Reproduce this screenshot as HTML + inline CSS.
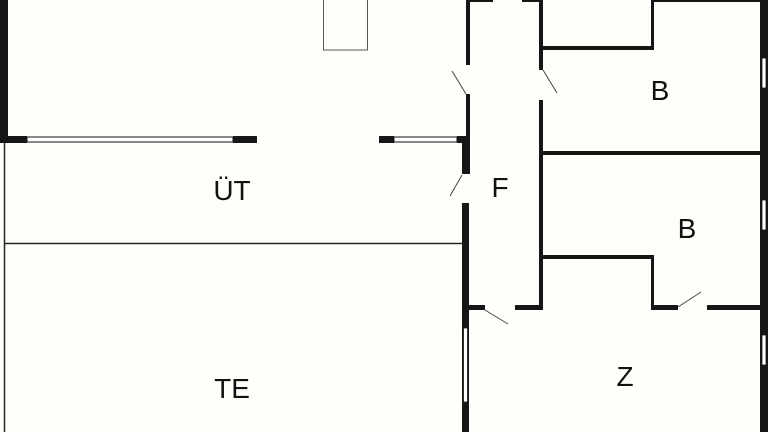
<!DOCTYPE html>
<html><head><meta charset="utf-8"><style>
html,body{margin:0;padding:0;background:#fefefa;}
svg{display:block}
text{font-family:"Liberation Sans",sans-serif;font-size:28px;fill:#111;text-anchor:middle}
</style></head><body>
<svg width="768" height="432" viewBox="0 0 768 432" xmlns="http://www.w3.org/2000/svg">
<rect width="768" height="432" fill="#fefefa"/>
<g fill="#161616">
<rect x="0" y="0" width="8" height="143"/>
<rect x="0" y="136" width="27" height="7"/>
<rect x="233" y="136" width="24" height="7"/>
<rect x="379" y="136" width="15" height="7"/>
<rect x="457" y="136" width="8" height="7"/>
<rect x="466" y="0" width="4" height="65"/>
<rect x="466" y="94" width="4" height="44"/>
<rect x="462" y="136" width="8" height="38"/>
<rect x="462" y="203" width="7" height="229"/>
<rect x="466" y="0" width="27" height="2"/>
<rect x="522" y="0" width="21" height="2"/>
<rect x="539" y="0" width="4" height="70"/>
<rect x="539" y="100" width="4" height="210"/>
<rect x="466" y="305" width="19" height="5"/>
<rect x="515" y="305" width="28" height="5"/>
<rect x="543" y="46" width="111" height="4"/>
<rect x="651" y="0" width="3" height="50"/>
<rect x="654" y="0" width="106" height="2"/>
<rect x="760" y="0" width="8" height="432"/>
<rect x="543" y="151" width="217" height="4"/>
<rect x="543" y="255" width="111" height="4"/>
<rect x="651" y="255" width="3" height="55"/>
<rect x="651" y="305" width="27" height="5"/>
<rect x="707" y="305" width="53" height="5"/>
</g>
<rect x="27" y="137" width="206" height="5" fill="#fff" stroke="#161616" stroke-width="1"/>
<rect x="394" y="137" width="63" height="5" fill="#fff" stroke="#161616" stroke-width="1"/>
<rect x="762" y="58" width="4" height="30" fill="#fff" stroke="#161616" stroke-width="0.8"/>
<rect x="762" y="200" width="4" height="30" fill="#fff" stroke="#161616" stroke-width="0.8"/>
<rect x="762" y="335" width="4" height="30" fill="#fff" stroke="#161616" stroke-width="0.8"/>
<rect x="463.5" y="328" width="4" height="74" fill="#fff" stroke="#161616" stroke-width="0.8"/>
<line x1="4.5" y1="143" x2="4.5" y2="432" stroke="#222" stroke-width="1.5"/>
<line x1="5" y1="243.5" x2="462" y2="243.5" stroke="#222" stroke-width="1.5"/>
<rect x="323.5" y="-1" width="44" height="51" fill="none" stroke="#555" stroke-width="1"/>
<g stroke="#444" stroke-width="1">
<line x1="452" y1="71" x2="466" y2="94"/>
<line x1="543" y1="70" x2="557" y2="93"/>
<line x1="450" y1="196" x2="462" y2="175"/>
<line x1="485" y1="310" x2="508" y2="324"/>
<line x1="678" y1="307" x2="701" y2="292"/>
</g>
<text x="232" y="200">ÜT</text>
<text x="500" y="197">F</text>
<text x="660" y="100">B</text>
<text x="687" y="238">B</text>
<text x="625" y="386">Z</text>
<text x="232" y="398">TE</text>
</svg>
</body></html>
